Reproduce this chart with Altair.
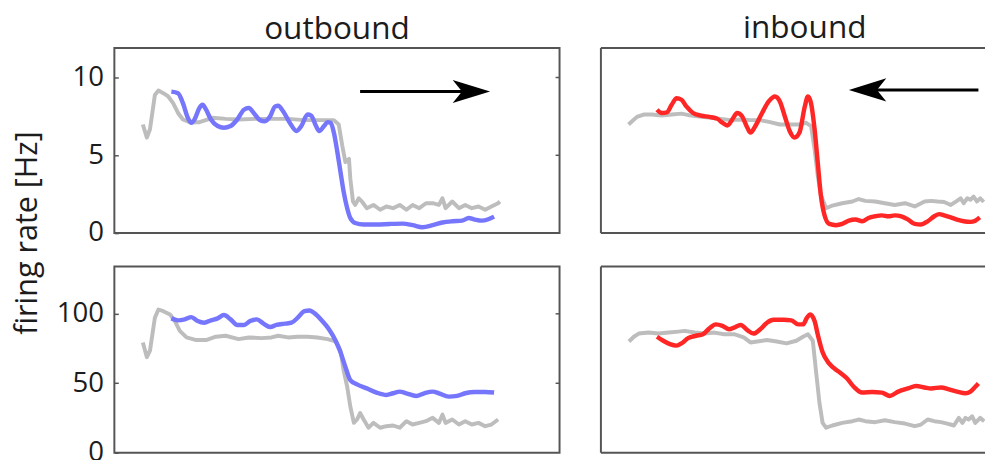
import altair as alt
import pandas as pd

# ---------------- data (track position in % of track, firing rate) ----------------
out_top_gray_x = [6.4, 7.3, 8.0, 9.1, 9.9, 11.0, 12.1, 13.2, 14.3, 15.4, 16.9, 19.1, 22.1, 25.0, 27.9,
                  31.6, 35.3, 39.0, 42.7, 46.4, 49.3, 50.4, 51.2, 51.9, 52.7, 53.0, 53.6, 54.1, 54.9, 55.6,
                  56.7, 58.2, 59.7, 61.1, 62.6, 64.1, 65.6, 67.0, 68.5, 70.0, 71.5, 72.9, 73.7, 74.4, 75.9,
                  77.4, 78.8, 80.3, 81.8, 83.3, 84.7, 86.2, 86.6]
out_top_gray_y = [6.98, 6.14, 6.67, 8.88, 9.16, 8.99, 8.78, 8.35, 7.72, 7.30, 7.13, 7.13, 7.41, 7.34, 7.30,
                  7.34, 7.34, 7.34, 7.26, 7.26, 7.26, 6.98, 5.61, 4.56, 4.77, 3.50, 2.03, 1.81, 2.24, 2.03,
                  1.60, 1.81, 1.50, 1.71, 1.60, 1.81, 1.50, 1.81, 1.60, 1.92, 1.92, 1.81, 2.24, 1.60, 2.03,
                  1.60, 1.81, 1.60, 1.71, 1.50, 1.71, 1.92, 2.03]
out_top_blue_x = [12.8, 14.3, 15.4, 16.5, 17.3, 18.0, 19.1, 19.8, 20.6, 21.7, 23.2, 24.6, 26.1, 27.6, 29.1,
                  30.2, 31.3, 32.7, 33.8, 35.0, 36.1, 36.8, 37.9, 39.4, 40.9, 42.0, 43.4, 44.2, 45.3, 46.0,
                  47.1, 47.9, 48.6, 49.3, 50.1, 50.8, 51.5, 52.3, 53.0, 54.1, 56.0, 58.9, 61.9, 64.8, 67.0,
                  69.2, 71.5, 73.7, 75.9, 78.1, 79.6, 81.0, 82.5, 84.0, 85.3]
out_top_blue_y = [9.09, 8.99, 8.35, 7.41, 7.09, 7.30, 8.04, 8.25, 7.93, 7.30, 6.88, 6.77, 6.88, 7.30, 7.93,
                  8.04, 7.72, 7.26, 7.19, 7.51, 8.14, 8.18, 7.83, 7.09, 6.56, 6.88, 7.62, 7.55, 6.88, 6.56,
                  6.88, 7.13, 7.09, 6.46, 5.19, 3.92, 2.66, 1.60, 0.97, 0.65, 0.55, 0.55, 0.59, 0.61, 0.51,
                  0.38, 0.51, 0.68, 0.76, 0.80, 0.97, 0.87, 0.80, 0.89, 1.06]

out_bot_gray_x = [6.4, 7.3, 8.0, 9.1, 9.9, 11.0, 12.5, 13.6, 14.7, 16.2, 18.4, 20.6, 22.8, 25.0, 27.9,
                  30.2, 33.1, 35.3, 36.8, 39.0, 41.2, 43.4, 45.6, 47.9, 49.7, 50.8, 51.5, 52.3, 53.0, 53.8,
                  54.5, 55.2, 56.0, 57.1, 58.2, 59.7, 61.1, 62.6, 64.1, 65.6, 67.0, 68.5, 70.0, 71.5, 72.9,
                  73.7, 74.4, 75.9, 77.4, 78.8, 80.3, 81.8, 83.3, 84.7, 86.2]
out_bot_gray_y = [79.4, 68.8, 73.5, 97.2, 103.1, 101.9, 99.5, 94.8, 87.7, 83.0, 81.1, 81.1, 83.5, 84.2, 81.8,
                  83.0, 82.5, 83.0, 84.2, 83.0, 83.5, 83.5, 83.0, 81.8, 80.1, 73.5, 59.3, 47.5, 33.3, 21.5,
                  23.9, 28.6, 23.9, 18.0, 21.5, 18.0, 19.1, 19.6, 18.0, 22.7, 20.3, 21.5, 22.7, 25.1, 21.5,
                  27.4, 21.5, 23.9, 20.3, 22.7, 20.3, 21.5, 19.1, 20.3, 23.9]
out_bot_blue_x = [12.8, 14.3, 15.8, 17.3, 18.7, 20.2, 21.7, 23.2, 24.6, 26.1, 27.6, 29.1, 30.5, 32.0, 33.5,
                  35.0, 36.4, 38.3, 39.8, 41.2, 42.7, 43.8, 45.3, 46.7, 48.2, 49.7, 50.8, 51.9, 53.0, 54.5,
                  56.7, 58.9, 61.1, 62.6, 64.1, 65.6, 67.8, 69.6, 71.5, 72.9, 75.1, 77.0, 78.8, 81.0, 83.3,
                  85.3]
out_bot_blue_y = [96.7, 95.3, 96.0, 97.6, 94.8, 93.6, 95.3, 96.7, 99.1, 96.0, 92.0, 92.0, 94.8, 96.0, 92.9,
                  90.5, 92.0, 92.9, 93.6, 97.2, 101.9, 102.4, 99.5, 94.8, 88.9, 80.6, 72.3, 61.7, 52.3, 49.2,
                  46.3, 43.3, 41.6, 42.8, 44.0, 42.8, 40.9, 42.8, 44.0, 42.8, 40.4, 40.9, 42.8, 43.7, 43.7,
                  43.3]

in_top_gray_x = [6.2, 7.0, 8.1, 9.6, 11.5, 13.7, 15.9, 18.1, 20.3, 22.5, 24.7, 26.9, 29.2, 31.4, 33.6,
                 35.8, 38.0, 40.2, 42.4, 44.6, 46.1, 47.2, 48.0, 48.7, 49.4, 50.6, 52.0, 54.2, 56.5, 57.9,
                 59.4, 61.6, 63.8, 66.0, 68.3, 70.5, 72.7, 74.2, 75.6, 77.1, 78.6, 80.0, 80.8, 81.5, 82.3,
                 83.0, 83.7, 84.5, 85.2, 86.0]
in_top_gray_y = [6.98, 7.19, 7.47, 7.62, 7.62, 7.55, 7.62, 7.68, 7.55, 7.47, 7.41, 7.34, 7.26, 7.30, 7.26,
                 7.26, 7.13, 6.98, 6.98, 6.98, 7.09, 6.88, 5.40, 3.71, 2.45, 1.60, 1.77, 1.92, 2.03, 2.19,
                 2.07, 2.03, 1.92, 1.81, 1.92, 1.71, 2.03, 2.07, 2.03, 2.00, 1.81, 2.07, 2.24, 1.92, 2.24,
                 2.14, 2.34, 2.03, 2.24, 2.00]
in_top_red_x = [12.6, 13.7, 14.8, 15.9, 17.0, 18.1, 19.2, 20.7, 22.5, 24.4, 26.2, 27.3, 28.4, 29.5, 30.6,
                31.7, 32.9, 33.6, 34.7, 36.2, 37.7, 39.1, 40.2, 41.3, 42.4, 43.5, 44.6, 45.8, 46.5, 47.2,
                48.0, 48.7, 49.4, 50.2, 51.3, 52.8, 54.2, 55.7, 57.2, 58.7, 60.1, 61.6, 63.1, 64.6, 66.0,
                67.5, 69.0, 70.5, 71.9, 73.4, 74.9, 76.0, 77.1, 78.6, 80.0, 81.5, 83.0, 84.1, 85.1]
in_top_red_y = [7.93, 7.72, 7.76, 8.25, 8.67, 8.57, 8.14, 7.72, 7.55, 7.47, 7.34, 7.09, 6.92, 7.30, 7.72,
                7.51, 6.77, 6.46, 6.88, 7.72, 8.46, 8.78, 8.46, 7.51, 6.56, 6.14, 6.46, 8.14, 8.78, 8.35,
                6.67, 4.56, 2.45, 1.18, 0.59, 0.51, 0.59, 0.80, 0.87, 0.76, 0.97, 1.08, 1.14, 1.08, 1.14,
                1.08, 0.87, 0.59, 0.55, 0.76, 1.08, 1.22, 1.14, 1.01, 0.87, 0.76, 0.72, 0.80, 1.01]

in_bot_gray_x = [6.3, 7.4, 8.5, 10.7, 12.9, 15.2, 17.4, 18.8, 21.1, 23.3, 25.5, 27.7, 29.9, 32.1, 33.6,
                 35.1, 37.3, 39.5, 41.7, 43.9, 45.4, 46.5, 47.6, 48.3, 49.1, 49.8, 50.6, 52.0, 54.2, 56.5,
                 57.9, 59.4, 61.6, 63.8, 66.0, 68.3, 70.5, 71.9, 73.4, 74.9, 76.4, 77.8, 79.3, 80.4, 81.2,
                 81.9, 82.6, 83.4, 84.1, 85.2, 86.1]
in_bot_gray_y = [80.1, 83.5, 85.8, 86.5, 85.8, 86.5, 87.2, 87.7, 86.5, 85.8, 86.5, 85.3, 85.3, 83.0, 79.4,
                 80.1, 81.1, 80.1, 78.7, 80.6, 83.5, 85.3, 80.6, 59.3, 35.7, 21.5, 18.0, 19.6, 21.5, 22.7,
                 23.9, 22.7, 22.0, 23.4, 22.0, 21.0, 19.1, 20.3, 23.9, 22.7, 22.0, 21.0, 19.6, 25.1, 21.5,
                 25.1, 23.9, 26.2, 21.5, 25.1, 22.7]
in_bot_red_x = [12.6, 14.0, 15.5, 17.0, 18.1, 19.6, 21.4, 22.9, 24.4, 25.8, 27.3, 28.8, 29.9, 31.4, 32.9,
                34.3, 35.8, 37.3, 38.8, 41.0, 42.8, 44.3, 45.4, 46.3, 47.0, 48.0, 48.7, 49.8, 51.3, 53.5,
                55.3, 56.8, 58.7, 60.9, 63.1, 64.9, 66.8, 69.0, 70.8, 72.7, 74.2, 76.4, 78.2, 80.0, 81.9,
                83.0, 84.1, 84.8]
in_bot_red_y = [83.5, 80.6, 78.2, 77.1, 78.7, 82.5, 84.2, 85.3, 89.6, 92.4, 91.3, 88.9, 90.1, 92.0, 88.2,
                85.8, 88.9, 93.6, 95.7, 95.7, 95.3, 92.4, 92.4, 97.2, 99.5, 94.8, 85.3, 72.3, 64.1, 58.2,
                53.4, 47.5, 43.3, 43.7, 43.3, 40.9, 44.0, 46.3, 48.0, 47.0, 46.3, 47.0, 45.6, 44.0, 42.8,
                44.0, 47.5, 49.9]

# direction arrows: [tail x, tip x, y]
arrow_out = [55.2, 84.4, 9.1]
arrow_in = [84.8, 55.7, 9.2]

top_ticks = [0, 5, 10]
bot_ticks = [0, 50, 100]
top_domain = [0, 11.9]
bot_domain = [0, 134]

# ---------------- styling ----------------
FONT = "Open Sans"
TEXT = "#1c1c1c"
FRAME = "#555555"
GRAY = "#bdbdbd"
BLUE = "#7676fc"
RED = "#ff2626"

W_LEFT = 452
W_RIGHT = 390
PX_PER_UNIT = W_LEFT / 100.0
H_TOP = 188
H_BOT = 189
HEAD_LEN = 38  # px
TICK_LEN = 4   # px

HEAD_RIGHT = "M1,0 L-1,-0.62 L-0.5,0 L-1,0.62 Z"
HEAD_LEFT = "M-1,0 L1,-0.62 L0.5,0 L1,0.62 Z"


def y_axis(ticks):
    return alt.Axis(values=ticks, title=None, grid=False, domain=False,
                    tickSize=TICK_LEN, offset=-TICK_LEN, tickColor=FRAME, tickWidth=1.5,
                    labelPadding=11, labelFontSize=28, labelFont=FONT,
                    labelColor=TEXT, minExtent=66, maxExtent=66)


def panel(gx, gy, cx, cy, color, ydom, yticks, width, height, xmax,
          left=True, title=None, arrow=None):
    ax = y_axis(yticks) if left else None
    xs = alt.Scale(domain=[0, xmax], nice=False, zero=False)
    ys = alt.Scale(domain=ydom, nice=False, zero=False)

    def X(f):
        return alt.X(f, type="quantitative", scale=xs, axis=None)

    def Y(f):
        return alt.Y(f, type="quantitative", scale=ys, axis=ax)

    gray = alt.Chart(pd.DataFrame({"x": gx, "y": gy})).mark_line(
        color=GRAY, strokeWidth=4, clip=True, strokeJoin="round"
    ).encode(x=X("x"), y=Y("y"))
    col = alt.Chart(pd.DataFrame({"x": cx, "y": cy})).mark_line(
        color=color, strokeWidth=4.5, interpolate="monotone", clip=True, strokeJoin="round"
    ).encode(x=X("x"), y=Y("y"))
    layers = [gray, col]

    if arrow is not None:
        tail, tip, ay = arrow
        d = 1 if tip > tail else -1
        head = tip - d * (HEAD_LEN / 2) / PX_PER_UNIT
        shaft = alt.Chart(pd.DataFrame({"x": [tail], "x2": [head], "y": [ay]})).mark_rule(
            color="black", strokeWidth=3
        ).encode(x=X("x"), x2="x2", y=Y("y"))
        hd = alt.Chart(pd.DataFrame({"x": [head], "y": [ay]})).mark_point(
            shape=HEAD_RIGHT if d > 0 else HEAD_LEFT, size=HEAD_LEN ** 2,
            filled=True, color="black", opacity=1, strokeWidth=0
        ).encode(x=X("x"), y=Y("y"))
        layers += [shaft, hd]

    if left:
        # mirrored inward ticks on the right edge of the box
        mirror = alt.Chart(pd.DataFrame({"y": yticks[1:]})).mark_rule(
            color=FRAME, strokeWidth=1.5
        ).encode(x=alt.value(width - TICK_LEN), x2=alt.value(width), y=Y("y"))
        layers.append(mirror)
        view = alt.ViewBackground(stroke=FRAME, strokeWidth=2)
    else:
        one = pd.DataFrame({"d": [0]})
        layers += [
            alt.Chart(one).mark_rule(color=FRAME, strokeWidth=2).encode(
                x=alt.value(0), x2=alt.value(width), y=alt.value(0)),
            alt.Chart(one).mark_rule(color=FRAME, strokeWidth=2).encode(
                x=alt.value(0), x2=alt.value(width), y=alt.value(height)),
            alt.Chart(one).mark_rule(color=FRAME, strokeWidth=2).encode(
                x=alt.value(0), y=alt.value(0), y2=alt.value(height)),
        ]
        view = alt.ViewBackground(strokeOpacity=0)

    ch = alt.layer(*layers).properties(width=width, height=height, view=view)
    if title is not None:
        ch = ch.properties(title=title)
    return ch


def panel_title(text, dx=0):
    return alt.Title(text, fontSize=32, font=FONT, fontWeight="normal", color=TEXT,
                     anchor="middle", offset=2, dx=dx)


tl = panel(out_top_gray_x, out_top_gray_y, out_top_blue_x, out_top_blue_y, BLUE,
           top_domain, top_ticks, W_LEFT, H_TOP, 100, True,
           panel_title("outbound"), arrow_out)
tr = panel(in_top_gray_x, in_top_gray_y, in_top_red_x, in_top_red_y, RED,
           top_domain, top_ticks, W_RIGHT, H_TOP, W_RIGHT / PX_PER_UNIT, False,
           panel_title("inbound", dx=12), arrow_in)
bl = panel(out_bot_gray_x, out_bot_gray_y, out_bot_blue_x, out_bot_blue_y, BLUE,
           bot_domain, bot_ticks, W_LEFT, H_BOT, 100, True)
br = panel(in_bot_gray_x, in_bot_gray_y, in_bot_red_x, in_bot_red_y, RED,
           bot_domain, bot_ticks, W_RIGHT, H_BOT, W_RIGHT / PX_PER_UNIT, False)

row1 = alt.hconcat(tl, tr, spacing=39)
row2 = alt.hconcat(bl, br, spacing=39)

chart = alt.vconcat(row1, row2, spacing=18).properties(
    title=alt.Title("firing rate [Hz]", orient="left", anchor="middle", fontSize=31,
                    font=FONT, fontWeight="normal", color=TEXT, offset=9, dx=7),
    padding={"left": 3, "top": 1, "right": 0, "bottom": 0},
).configure(font=FONT)

chart.save("out.html", embed_options={"renderer": "svg", "actions": False})
